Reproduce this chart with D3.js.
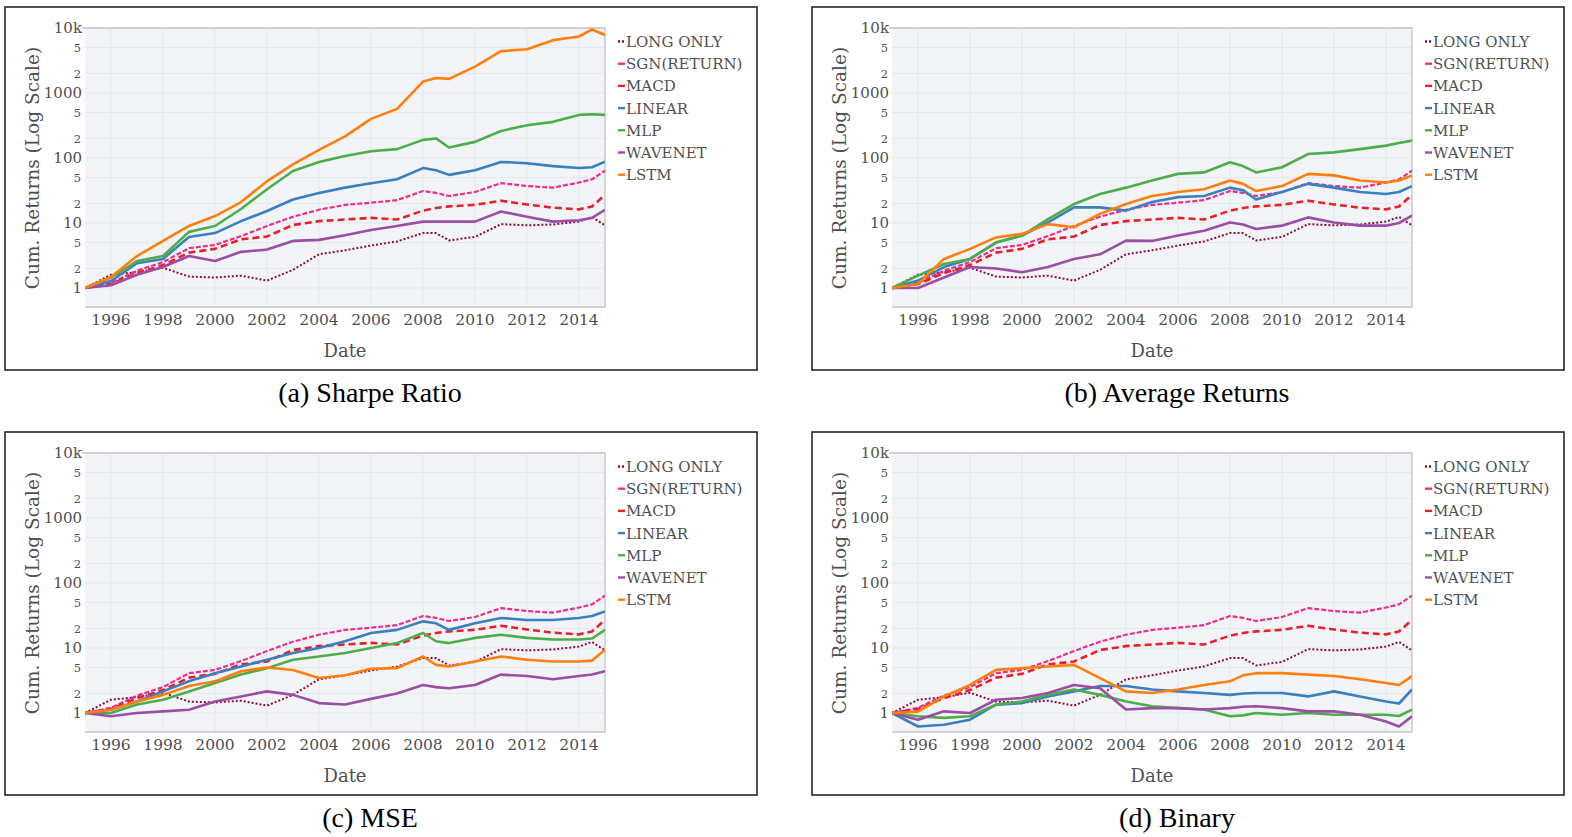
<!DOCTYPE html>
<html>
<head>
<meta charset="utf-8">
<script src="https://cdn.jsdelivr.net/npm/d3@7"></script>
<style>
  body { margin: 0; background: #fff; }
  svg { display: block; }
</style>
</head>
<body>
<div id="chart"></div>
<script>
// dates (decimal years) shared by every series
var dates = [1995, 1996, 1997, 1998, 1999, 2000, 2001, 2002, 2003, 2004, 2005, 2006, 2007,
    2008, 2008.5, 2009, 2010, 2011, 2012, 2013, 2014, 2014.5, 2015];

var seriesNames = ["LONG ONLY", "SGN(RETURN)", "MACD", "LINEAR", "MLP", "WAVENET", "LSTM"];
var panelTitles = ["(a) Sharpe Ratio", "(b) Average Returns", "(c) MSE", "(d) Binary"];

var yMajorTicks = [1, 10, 100, 1000, 10000];
var yMajorLabels = ["1", "10", "100", "1000", "10k"];
var yMinorTicks = [2, 5, 20, 50, 200, 500, 2000, 5000];
var xTicks = [1996, 1998, 2000, 2002, 2004, 2006, 2008, 2010, 2012, 2014];

// benchmarks (same in every panel)
var longOnly = [1, 1.6, 1.75, 2.05, 1.5, 1.45, 1.55, 1.3, 1.9, 3.3, 3.8, 4.5, 5.2, 7.0, 7.0, 5.4, 6.1, 9.6, 9.2, 9.5, 10.5, 12.4, 9.2];
var sgnReturn = [1, 1.2, 1.85, 2.5, 4.1, 4.6, 6.3, 9, 12.5, 16, 19, 20.5, 22.5, 31, 29, 26, 30, 41, 37, 35, 42, 47, 64];
var macd = [1, 1.15, 1.7, 2.25, 3.5, 4.0, 5.6, 6.2, 9.3, 10.7, 11.3, 12, 11.3, 15.5, 17, 18, 19, 22, 19.3, 17.2, 16.2, 18, 27];

// (a) Sharpe Ratio
var sharpeLinear = [1, 1.28, 2.4, 2.8, 6.1, 7.0, 10.7, 15.3, 23, 29, 35, 41, 47, 70, 65, 55, 65, 87, 83, 75, 70, 72, 88];
var sharpeMlp = [1, 1.45, 2.6, 3.1, 7.3, 9, 16.4, 33, 63, 87, 107, 127, 137, 190, 200, 145, 177, 260, 320, 360, 460, 470, 460];
var sharpeWavenet = [1, 1.1, 1.6, 2.1, 3.1, 2.6, 3.6, 3.9, 5.3, 5.5, 6.5, 7.8, 9, 10.5, 10.5, 10.5, 10.5, 15, 12.5, 10.5, 11, 12, 16];
var sharpeLstm = [1, 1.48, 3.1, 5.3, 9, 12.8, 21, 44, 80, 133, 215, 400, 570, 1500, 1700, 1650, 2550, 4400, 4700, 6500, 7400, 9500, 7800];

// (b) Average Returns
var avgLinear = [1, 1.3, 2.1, 2.8, 5.0, 6.4, 10.2, 17.4, 17.4, 15.5, 21, 25, 26, 35, 32, 23, 30, 40, 35, 30, 28, 30, 37];
var avgMlp = [1, 1.55, 2.34, 2.8, 5.0, 6.4, 11.5, 19.6, 28, 35, 45, 57, 60, 86, 75, 60, 72, 115, 122, 137, 155, 170, 185];
var avgWavenet = [1, 1.0, 1.45, 2.1, 2.0, 1.75, 2.1, 2.8, 3.3, 5.35, 5.3, 6.4, 7.6, 10.2, 9.5, 8.1, 9.1, 12.2, 10.2, 9.1, 9.1, 10, 13];
var avgLstm = [1, 1.15, 2.8, 4.0, 6.0, 6.8, 9.6, 8.6, 13.8, 19.6, 26, 30, 33, 45, 40, 31, 37, 57, 54, 45, 42, 45, 54];

// (c) MSE
var mseLinear = [1, 1.12, 1.5, 2.15, 3.07, 4.1, 5.2, 6.6, 8.4, 10, 12.7, 17, 19, 25.7, 24, 19, 24, 29, 27, 27, 29, 31, 36.6];
var mseMlp = [1, 1.0, 1.35, 1.6, 2.15, 2.9, 3.9, 4.9, 6.6, 7.4, 8.4, 10, 11.9, 17, 12.7, 11.9, 14.3, 16, 14.3, 13.5, 13.5, 14, 19];
var mseWavenet = [1, 0.89, 1.0, 1.06, 1.12, 1.5, 1.8, 2.15, 1.9, 1.42, 1.35, 1.65, 2.0, 2.7, 2.5, 2.4, 2.7, 3.9, 3.7, 3.3, 3.7, 3.9, 4.4];
var mseLstm = [1, 1.12, 1.5, 1.9, 2.6, 3.07, 4.4, 5.0, 4.6, 3.45, 3.8, 4.8, 4.9, 7.4, 5.5, 5.2, 6.2, 7.4, 6.6, 6.2, 6.2, 6.4, 9.4];

// (d) Binary
var binLinear = [1, 0.62, 0.66, 0.79, 1.34, 1.42, 1.8, 2.15, 2.6, 2.6, 2.3, 2.15, 2.03, 1.9, 2.0, 2.03, 2.03, 1.8, 2.15, 1.8, 1.5, 1.4, 2.3];
var binMlp = [1, 0.89, 0.84, 0.89, 1.34, 1.5, 1.9, 2.3, 1.9, 1.5, 1.27, 1.19, 1.13, 0.89, 0.92, 1.0, 0.94, 1.0, 0.94, 0.94, 0.94, 0.9, 1.13];
var binWavenet = [1, 0.79, 1.06, 1.0, 1.6, 1.7, 2.03, 2.7, 2.4, 1.13, 1.19, 1.19, 1.13, 1.19, 1.25, 1.27, 1.19, 1.06, 1.06, 0.94, 0.74, 0.62, 0.89];
var binLstm = [1, 1.05, 1.8, 2.7, 4.6, 4.9, 5.2, 5.5, 3.45, 2.15, 2.03, 2.3, 2.7, 3.07, 3.8, 4.1, 4.1, 3.9, 3.7, 3.3, 2.9, 2.7, 3.7];

function init() {

    var width = 1572;
    var height = 837;

    // line styles, one per series
    var colors = ["#8e0c3f", "#ee2f8c", "#e8202a", "#3a7fbf", "#4bae4a", "#9b4ea5", "#ff7f0e"];
    var dashes = ["2,2", "5,2", "7,4", null, null, null, null];
    var widths = [2, 2.2, 2.6, 2.6, 2.6, 2.6, 2.6];

    var panels = [
        [longOnly, sgnReturn, macd, sharpeLinear, sharpeMlp, sharpeWavenet, sharpeLstm],
        [longOnly, sgnReturn, macd, avgLinear, avgMlp, avgWavenet, avgLstm],
        [longOnly, sgnReturn, macd, mseLinear, mseMlp, mseWavenet, mseLstm],
        [longOnly, sgnReturn, macd, binLinear, binMlp, binWavenet, binLstm]
    ];
    var origins = [[5, 7], [812, 7], [5, 432], [812, 432]];

    var boxW = 752, boxH = 363;
    var plotLeft = 80, plotRight = 600, plotTop = 21, plotBottom = 300;

    var svg = d3.select("#chart")
        .append("svg")
        .attr("width", width)
        .attr("height", height);

    var x = d3.scaleLinear()
        .domain([1995, 2015])
        .range([plotLeft, plotRight]);

    var y = d3.scaleLog()
        .domain([Math.pow(10, -19 / 65), 10000])
        .range([plotBottom, plotTop]);

    var line = d3.line()
        .x(function (d) { return x(d[0]); })
        .y(function (d) { return y(d[1]); });

    var tickFont = "DejaVu Serif, serif";
    var textColor = "#505050";

    panels.forEach(function (series, p) {

        var g = svg.append("g")
            .attr("transform", "translate(" + origins[p][0] + "," + origins[p][1] + ")");

        // outer frame
        g.append("rect")
            .attr("x", 0).attr("y", 0)
            .attr("width", boxW).attr("height", boxH)
            .attr("fill", "none")
            .attr("stroke", "#262626")
            .attr("stroke-width", 1.6);

        // plot background
        g.append("rect")
            .attr("x", plotLeft).attr("y", plotTop)
            .attr("width", plotRight - plotLeft).attr("height", plotBottom - plotTop)
            .attr("fill", "#f3f4f8");

        // grid lines
        g.append("g")
            .selectAll("line.h")
            .data(yMajorTicks.concat(yMinorTicks))
            .enter()
            .append("line")
            .attr("x1", plotLeft).attr("x2", plotRight)
            .attr("y1", function (d) { return y(d); })
            .attr("y2", function (d) { return y(d); })
            .attr("stroke", "#e5e7ee")
            .attr("stroke-width", 1);

        g.append("g")
            .selectAll("line.v")
            .data(xTicks)
            .enter()
            .append("line")
            .attr("x1", function (d) { return x(d); })
            .attr("x2", function (d) { return x(d); })
            .attr("y1", plotTop).attr("y2", plotBottom)
            .attr("stroke", "#e5e7ee")
            .attr("stroke-width", 1);

        // plot border (top, right, bottom)
        g.append("path")
            .attr("d", "M" + (plotLeft - 3) + "," + plotTop + "H" + plotRight + "V" + plotBottom + "H" + plotLeft)
            .attr("fill", "none")
            .attr("stroke", "#c4c4c8")
            .attr("stroke-width", 1.3);

        // y tick labels
        g.append("g")
            .selectAll("text")
            .data(yMajorTicks)
            .enter()
            .append("text")
            .attr("x", plotLeft - 3)
            .attr("y", function (d) { return y(d); })
            .attr("dy", "0.36em")
            .attr("text-anchor", "end")
            .style("font-family", tickFont)
            .style("font-size", "15px")
            .style("fill", textColor)
            .text(function (d, i) { return yMajorLabels[i]; });

        g.append("g")
            .selectAll("text")
            .data(yMinorTicks)
            .enter()
            .append("text")
            .attr("x", plotLeft - 4)
            .attr("y", function (d) { return y(d); })
            .attr("dy", "0.36em")
            .attr("text-anchor", "end")
            .style("font-family", tickFont)
            .style("font-size", "11.5px")
            .style("fill", textColor)
            .text(function (d) { return String(d).charAt(0); });

        // x tick labels
        g.append("g")
            .selectAll("text")
            .data(xTicks)
            .enter()
            .append("text")
            .attr("x", function (d) { return x(d); })
            .attr("y", 318)
            .attr("text-anchor", "middle")
            .style("font-family", tickFont)
            .style("font-size", "15.5px")
            .style("fill", textColor)
            .text(function (d) { return d; });

        // axis titles
        g.append("text")
            .attr("x", (plotLeft + plotRight) / 2)
            .attr("y", 350)
            .attr("text-anchor", "middle")
            .style("font-family", tickFont)
            .style("font-size", "18px")
            .style("fill", textColor)
            .text("Date");

        g.append("text")
            .attr("transform", "translate(34," + 161 + ") rotate(-90)")
            .attr("text-anchor", "middle")
            .style("font-family", tickFont)
            .style("font-size", "18.5px")
            .style("fill", textColor)
            .text("Cum. Returns (Log Scale)");

        // clip lines to plot
        var clipId = "clip" + p;
        g.append("clipPath")
            .attr("id", clipId)
            .append("rect")
            .attr("x", plotLeft).attr("y", plotTop)
            .attr("width", plotRight - plotLeft).attr("height", plotBottom - plotTop);

        var lines = g.append("g").attr("clip-path", "url(#" + clipId + ")");

        series.forEach(function (values, s) {
            var pts = dates.map(function (dt, i) { return [dt, values[i]]; });
            lines.append("path")
                .datum(pts)
                .attr("d", line)
                .attr("fill", "none")
                .attr("stroke", colors[s])
                .attr("stroke-width", widths[s])
                .attr("stroke-linejoin", "round")
                .attr("stroke-dasharray", dashes[s]);
        });

        // legend
        var legend = g.append("g");
        seriesNames.forEach(function (name, s) {
            var ly = 34.5 + s * 22.2;
            legend.append("line")
                .attr("x1", 613).attr("x2", 620)
                .attr("y1", ly).attr("y2", ly)
                .attr("stroke", colors[s])
                .attr("stroke-width", 2.4)
                .attr("stroke-dasharray", s === 0 ? "2,2" : null);
            legend.append("text")
                .attr("x", 621)
                .attr("y", ly)
                .attr("dy", "0.36em")
                .style("font-family", tickFont)
                .style("font-size", "15px")
                .style("fill", textColor)
                .text(name);
        });

        // caption under the box
        g.append("text")
            .attr("x", boxW / 2 - 11)
            .attr("y", boxH + 32)
            .attr("text-anchor", "middle")
            .style("font-family", "Liberation Serif, Times New Roman, serif")
            .style("font-size", "28px")
            .style("fill", "#000")
            .text(panelTitles[p]);
    });
}

window.onload = init;
</script>
</body>
</html>
